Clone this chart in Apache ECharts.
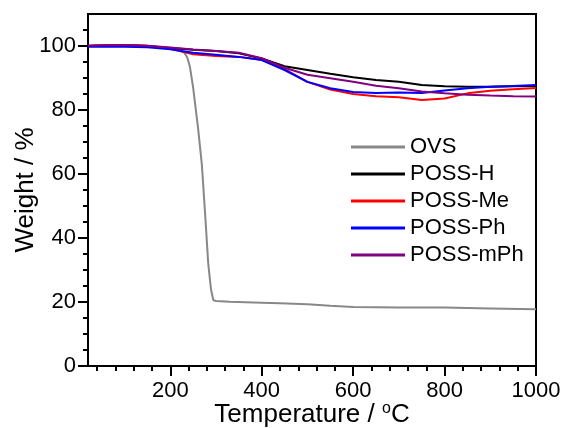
<!DOCTYPE html>
<html>
<head>
<meta charset="utf-8">
<script src="https://cdn.jsdelivr.net/npm/echarts@6/dist/echarts.min.js"></script>
<style>html,body{margin:0;padding:0;background:#fff}#c{width:563px;height:428px}</style>
</head>
<body>
<div id="c"></div>
<script>
// Temperature (°C) / weight (%) data
const seriesNames = ['OVS', 'POSS-H', 'POSS-Me', 'POSS-Ph', 'POSS-mPh'];
const ovsT = [20, 60, 100, 150, 180, 200, 215, 230, 237, 243, 250, 261, 269, 276, 283, 289, 294, 300, 330, 400, 440, 500, 550, 600, 700, 800, 900, 1000];
const ovsW = [100, 100.3, 100.2, 100, 99.6, 99.3, 99, 98, 96.5, 93.5, 87, 74, 63, 48, 32, 24, 20.6, 20.3, 20.1, 19.8, 19.6, 19.3, 18.8, 18.4, 18.3, 18.3, 18, 17.7];
const possT = [20, 50, 100, 150, 200, 250, 300, 350, 400, 450, 500, 550, 600, 650, 700, 750, 800, 850, 900, 950, 1000];
const possH = [100, 100.1, 100.2, 100, 99.4, 98.8, 98.4, 97.7, 96.1, 93.7, 92.5, 91.3, 90.2, 89.4, 88.8, 87.8, 87.4, 87.3, 87.3, 87.4, 87.5];
const possMe = [100.1, 100.2, 100.3, 100.1, 99.1, 97.4, 96.9, 96.6, 95.7, 92.8, 88.8, 86.4, 85, 84.3, 84, 83.1, 83.6, 85.2, 86, 86.5, 86.9];
const possPh = [99.8, 99.8, 99.8, 99.6, 99, 97.9, 97.3, 96.6, 95.6, 92.5, 88.8, 86.8, 85.6, 85.3, 85.5, 85.3, 86.1, 86.8, 87.3, 87.5, 87.8];
const possMPh = [100.1, 100.2, 100.3, 100.1, 99.5, 98.9, 98.4, 97.9, 96.2, 93.2, 91, 89.9, 88.8, 87.6, 86.8, 85.8, 85.2, 84.8, 84.5, 84.3, 84.2];
const xMajorTicks = [200, 400, 600, 800, 1000];
const xMinorTicks = [40, 80, 120, 160, 240, 280, 320, 360, 440, 480, 520, 560, 640, 680, 720, 760, 840, 880, 920, 960];
const yMajorTicks = [0, 20, 40, 60, 80, 100];
const yMinorTicks = [5, 10, 15, 25, 30, 35, 45, 50, 55, 65, 70, 75, 85, 90, 95, 105];
const colors = ['#888888', '#000000', '#ff0000', '#0000ff', '#800080'];

const pair = (xs, ys) => xs.map((x, i) => [x, ys[i]]);
const seriesData = [pair(ovsT, ovsW), pair(possT, possH), pair(possT, possMe), pair(possT, possPh), pair(possT, possMPh)];

const FONT = '"Liberation Sans", Arial, sans-serif';
const chart = echarts.init(document.getElementById('c'), null, {renderer: 'canvas'});
chart.setOption({
  animation: false,
  backgroundColor: '#fff',
  grid: {left: 88, right: 27, top: 14, bottom: 62, containLabel: false, outerBoundsMode: 'none',
    show: true, borderColor: '#000', borderWidth: 2, backgroundColor: 'transparent'},
  xAxis: [
    {
      type: 'value', min: 20, max: 1000,
      name: 'Temperature / {sup|o}C', nameLocation: 'middle', nameGap: 35, nameMoveOverlap: false,
      nameTextStyle: {fontFamily: FONT, fontSize: 26, color: '#000',
        rich: {sup: {fontFamily: FONT, fontSize: 16, color: '#000', verticalAlign: 'top', padding: [0, 0, 12, 0]}}},
      axisLine: {show: true, lineStyle: {color: '#000', width: 2}},
      axisTick: {show: true, length: 10, lineStyle: {color: '#000', width: 2}, customValues: xMajorTicks},
      axisLabel: {show: true, customValues: xMajorTicks, margin: 14, fontFamily: FONT, fontSize: 22, color: '#000',
        formatter: v => String(v)},
      splitLine: {show: false}
    },
    {
      type: 'value', min: 20, max: 1000, position: 'bottom',
      axisLine: {show: false},
      axisTick: {show: true, length: 5, lineStyle: {color: '#000', width: 2}, customValues: xMinorTicks},
      axisLabel: {show: false},
      splitLine: {show: false}
    }
  ],
  yAxis: [
    {
      type: 'value', min: 0, max: 110,
      name: 'Weight / %', nameLocation: 'middle', nameGap: 49, nameMoveOverlap: false,
      nameTextStyle: {fontFamily: FONT, fontSize: 26, color: '#000'},
      axisLine: {show: true, lineStyle: {color: '#000', width: 2}},
      axisTick: {show: true, length: 10, lineStyle: {color: '#000', width: 2}, customValues: yMajorTicks},
      axisLabel: {show: true, customValues: yMajorTicks, margin: 12, fontFamily: FONT, fontSize: 22, color: '#000',
        formatter: v => String(v)},
      splitLine: {show: false}
    },
    {
      type: 'value', min: 0, max: 110, position: 'left',
      axisLine: {show: false},
      axisTick: {show: true, length: 5, lineStyle: {color: '#000', width: 2}, customValues: yMinorTicks},
      axisLabel: {show: false},
      splitLine: {show: false}
    }
  ],
  legend: {
    orient: 'vertical', left: 346, top: 131,
    icon: 'rect', itemWidth: 54, itemHeight: 3, itemGap: 5,
    textStyle: {fontFamily: FONT, fontSize: 22, color: '#000'},
    data: seriesNames
  },
  series: seriesNames.map((n, i) => ({
    name: n, type: 'line', data: seriesData[i],
    xAxisIndex: 0, yAxisIndex: 0,
    showSymbol: false, symbol: 'none',
    lineStyle: {color: colors[i], width: 2},
    itemStyle: {color: colors[i]},
    z: i === 0 ? 2 : 3
  }))
});
</script>
</body>
</html>
